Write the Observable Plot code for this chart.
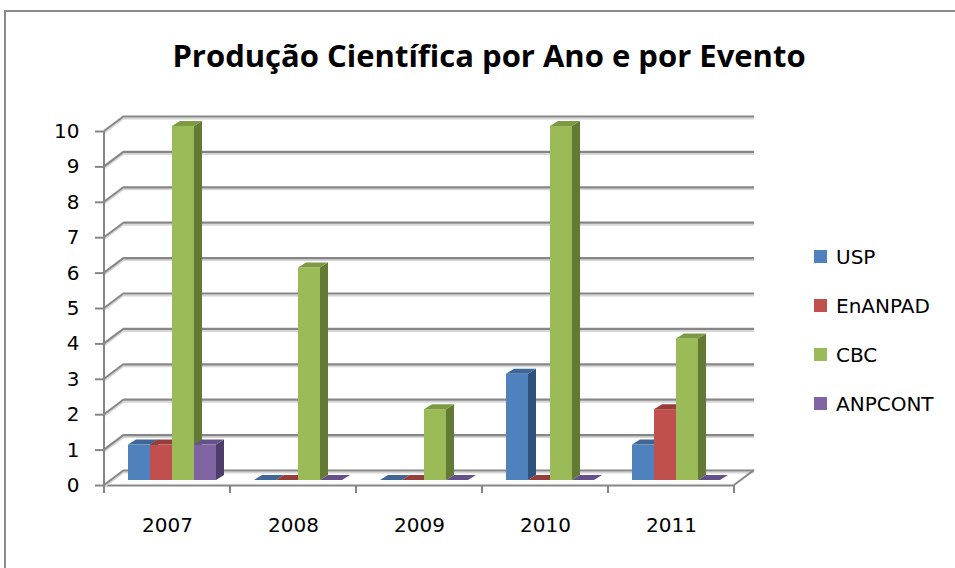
<!DOCTYPE html>
<html><head><meta charset="utf-8">
<script src="https://cdn.jsdelivr.net/npm/d3@7"></script>
<script src="https://cdn.jsdelivr.net/npm/@observablehq/plot@0.6"></script>
<style>
html,body{margin:0;padding:0;background:#fff;}
#wrap{position:relative;width:955px;height:568px;overflow:hidden;background:#fff;}
#border{position:absolute;left:4px;top:10px;width:1000px;height:600px;border-left:2px solid #8a8a8a;border-top:2px solid #8a8a8a;}
#title{position:absolute;left:0;width:978px;top:40px;line-height:31px;text-align:center;font-family:"Open Sans",Lato,sans-serif;font-weight:bold;font-size:31px;color:#000;}
#legend{position:absolute;left:814px;top:232px;font-family:"DejaVu Sans",sans-serif;font-size:20px;color:#000;}
.item{display:flex;align-items:center;height:49px;}
.sw{width:13px;height:13px;margin-right:9px;}
#chart{position:absolute;left:0;top:0;}
</style></head>
<body>
<div id="wrap">
  <div id="border"></div>
  <div id="chart"></div>
  <div id="title"></div>
  <div id="legend"></div>
</div>
<script>
// ---- data ----
const title = "Produção Científica por Ano e por Evento";
const years = ["2007", "2008", "2009", "2010", "2011"];
const seriesNames = ["USP", "EnANPAD", "CBC", "ANPCONT"];
const usp = [1, 0, 0, 3, 1];
const enanpad = [1, 0, 0, 0, 2];
const cbc = [10, 6, 2, 10, 4];
const anpcont = [1, 0, 0, 0, 0];
const yTicks = [0, 1, 2, 3, 4, 5, 6, 7, 8, 9, 10];

// ---- styles ----
const FRONT = ["#4F81BD", "#C0504D", "#9BBB59", "#8064A2"];
const TOP = ["#3E6797", "#973D3A", "#7B9A42", "#64508A"];
const SIDE = ["#2F527D", "#7A2F2D", "#627A33", "#4E3D6A"];
const GRID = "#868686";
const GRID_LIGHT = "#d6d6d6";
const WALL_DX = 20, WALL_DY = -15;   // depth of the back wall
const BAR_DX = 8, BAR_DY = -5;       // depth of each column

const values = [usp, enanpad, cbc, anpcont];
const rows = [];
seriesNames.forEach((s, k) => years.forEach((y, j) => rows.push({year: y, series: s, value: values[k][j]})));

function xRange(scales, dims) {
  return scales.x && scales.x.range ? scales.x.range() : [dims.marginLeft, dims.width - dims.marginRight];
}
function line(g, x1, y1, x2, y2, stroke, w) {
  g.append("line").attr("x1", x1).attr("y1", y1).attr("x2", x2).attr("y2", y2)
    .attr("stroke", stroke).attr("stroke-width", w);
}
// left wall: diagonal edges from the front axis to the back wall, plus axis line
function leftWall(index, scales, vals, dims) {
  const [xl] = xRange(scales, dims);
  const g = d3.create("svg:g");
  const ys = Array.from(index, i => scales.y(yTicks[i]));
  for (const y of ys) {
    line(g, xl, y + 2, xl + WALL_DX, y + WALL_DY + 2, GRID_LIGHT, 2);
    line(g, xl, y, xl + WALL_DX, y + WALL_DY, GRID, 2);
  }
  line(g, xl, Math.min(...ys), xl, Math.max(...ys) + 8, GRID, 2);
  return g.node();
}
// right floor edge + last bottom tick
function rightFloor(index, scales, vals, dims) {
  const [, xr] = xRange(scales, dims);
  const g = d3.create("svg:g");
  const y0 = scales.y(0);
  line(g, xr, y0, xr + WALL_DX, y0 + WALL_DY, GRID, 2);
  line(g, xr, y0, xr, y0 + 8, GRID, 2);
  return g.node();
}
// bottom tick at each category boundary
function bottomTick(index, scales, vals, dims) {
  const [xl] = xRange(scales, dims);
  const g = d3.create("svg:g");
  const y0 = scales.y(0);
  line(g, xl, y0, xl, y0 + 8, GRID, 2);
  return g.node();
}
// 3D column faces
function bar3d(k) {
  return (index, scales, vals, dims, ctx, next) => {
    const g = next(index, scales, vals, dims, ctx);
    const rects = Array.from(g.querySelectorAll("rect"));
    const ns = "http://www.w3.org/2000/svg";
    for (const r of rects) {
      const x = +r.getAttribute("x"), y = +r.getAttribute("y");
      const w = +r.getAttribute("width"), h = +r.getAttribute("height");
      const side = document.createElementNS(ns, "polygon");
      side.setAttribute("points", `${x + w},${y} ${x + w + BAR_DX},${y + BAR_DY} ${x + w + BAR_DX},${y + h + BAR_DY} ${x + w},${y + h}`);
      side.setAttribute("fill", SIDE[k]);
      const top = document.createElementNS(ns, "polygon");
      top.setAttribute("points", `${x},${y} ${x + w},${y} ${x + w + BAR_DX},${y + BAR_DY} ${x + BAR_DX},${y + BAR_DY}`);
      top.setAttribute("fill", TOP[k]);
      r.parentNode.appendChild(side);
      r.parentNode.appendChild(top);
    }
    return g;
  };
}

const labelFont = "'DejaVu Sans', sans-serif";

const chart = Plot.plot({
  width: 955,
  height: 568,
  marginLeft: 104,
  marginRight: 221,
  marginTop: 131,
  marginBottom: 83,
  style: {fontFamily: labelFont, background: "transparent", color: "#000"},
  fx: {domain: years, padding: 0, label: null},
  x: {domain: seriesNames, paddingInner: 0, paddingOuter: 0.76, axis: null},
  y: {domain: [0, 10], label: null},
  marks: [
    // back wall gridlines (with soft shadow)
    Plot.ruleY(yTicks, {dx: WALL_DX, dy: WALL_DY + 2, stroke: GRID_LIGHT, strokeWidth: 2}),
    Plot.ruleY(yTicks, {dx: WALL_DX, dy: WALL_DY, stroke: GRID, strokeWidth: 2.2}),
    // front floor edge
    Plot.ruleY([0], {stroke: GRID, strokeWidth: 2}),
    Plot.ruleY([0], {render: bottomTick}),
    Plot.ruleY(yTicks, {y: d => d, fx: () => years[0], render: leftWall}),
    Plot.ruleY([0], {fx: () => years[years.length - 1], render: rightFloor}),
    // columns
    ...seriesNames.map((s, k) => Plot.barY(rows, {
      filter: d => d.series === s,
      fx: "year", x: "series", y: "value",
      fill: FRONT[k], inset: 0, dx: 5, dy: -5,
      render: bar3d(k)
    })),
    Plot.axisY({ticks: yTicks, tickSize: 9, tickPadding: 16, stroke: GRID, strokeWidth: 2,
      fontSize: 20, label: null, fill: "#000"}),
    Plot.axisFx({anchor: "bottom", tickSize: 0, tickPadding: 32, fontSize: 20, label: null, fill: "#000"})
  ]
});
document.getElementById("chart").appendChild(chart);

document.getElementById("title").textContent = title;
const legend = document.getElementById("legend");
seriesNames.forEach((s, k) => {
  const item = document.createElement("div");
  item.className = "item";
  const sw = document.createElement("div");
  sw.className = "sw";
  sw.style.background = FRONT[k];
  const lab = document.createElement("span");
  lab.textContent = s;
  item.appendChild(sw);
  item.appendChild(lab);
  legend.appendChild(item);
});
</script>
</body></html>
